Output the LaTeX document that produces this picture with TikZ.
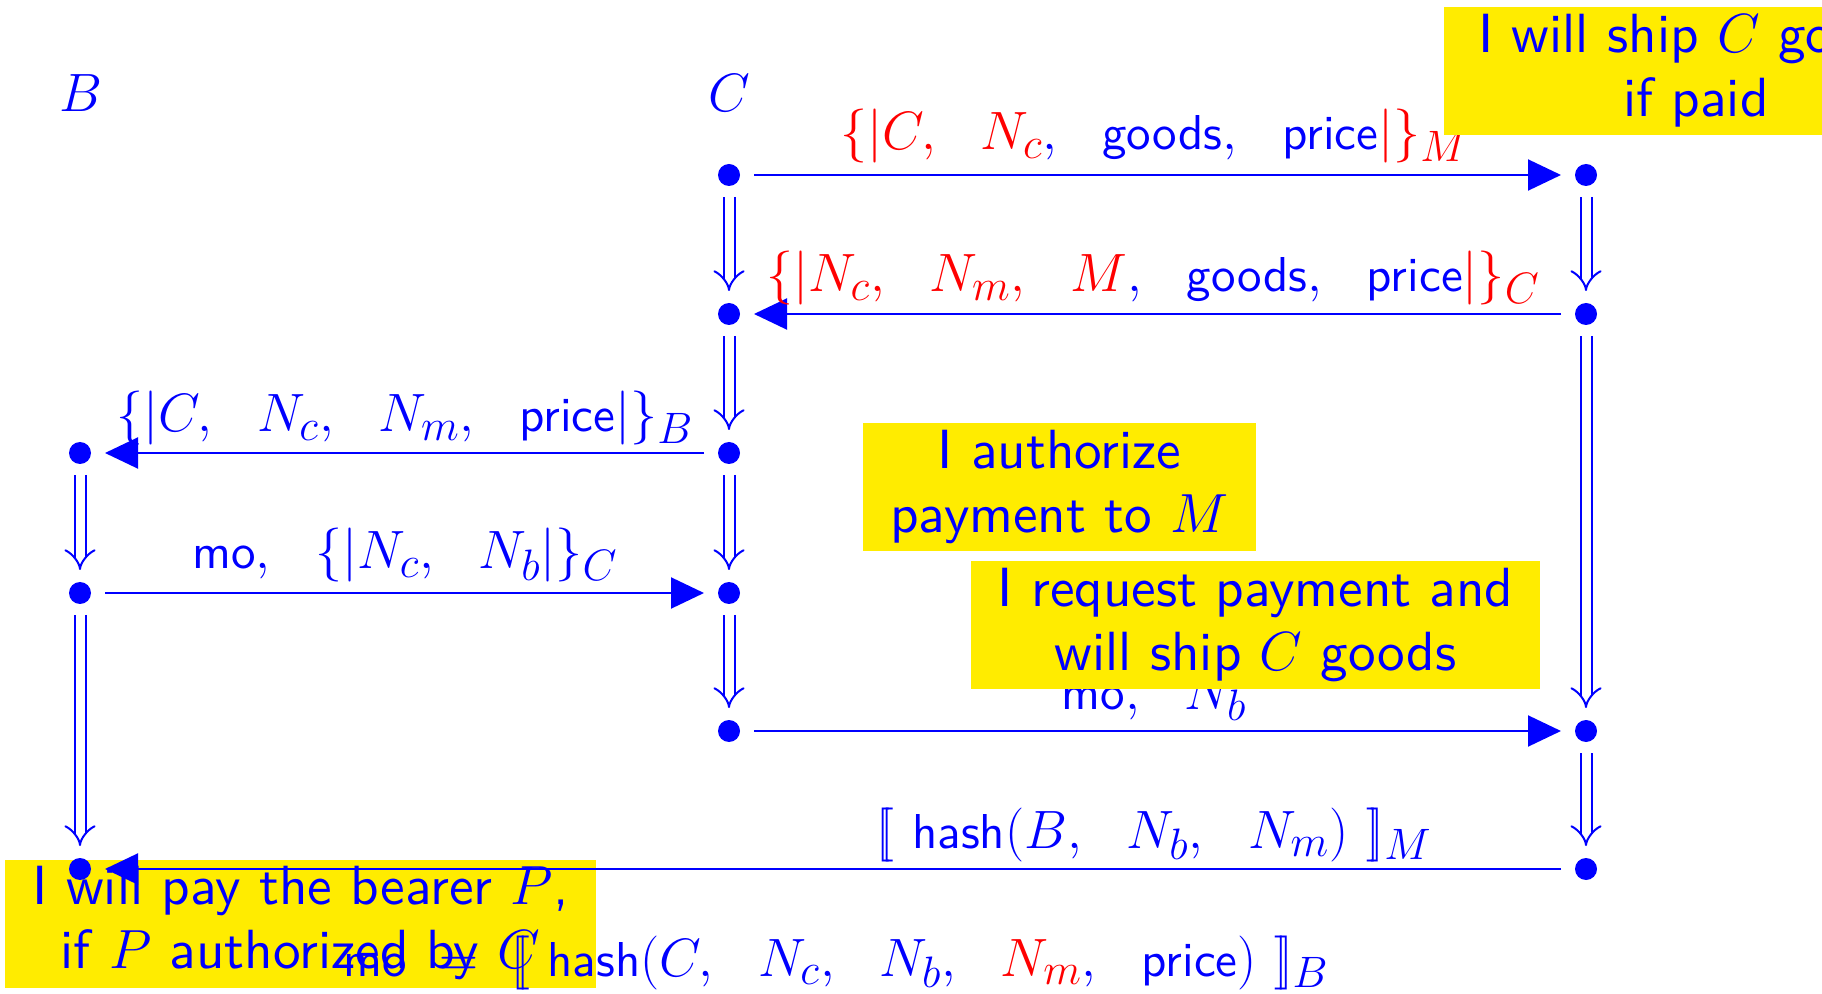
\RequirePackage{fix-cm}
\documentclass[tikz,border=0pt]{standalone}
\usepackage{fontspec}
\newfontfamily\lmsten{lmsans10-regular.otf}
\usetikzlibrary{arrows.meta}
\DeclareMathSizes{27}{27}{22}{16}
\DeclareMathSizes{27.6}{27.6}{22}{16}
\definecolor{hl}{RGB}{255,236,0}
\newcommand\fs{\fontsize{27}{32}\selectfont\lmsten}
\newcommand\fsbox{\fontsize{27.6}{32}\selectfont\lmsten}
\newcommand\w[1]{\mbox{\fontsize{24.5}{30}\selectfont\lmsten #1}}
\begin{document}
\begin{tikzpicture}[x=0.5pt,y=-0.5pt,
  every node/.style={text=blue,font=\fs},
  dot/.style={circle,fill=blue,minimum size=11pt,inner sep=0pt,outer sep=0pt},
  msg/.style={draw=blue,line width=1pt,-{Triangle[length=16.5pt,width=15.5pt]},shorten <=7pt,shorten >=7pt},
  seq/.style={draw=blue,line width=1pt,double=white,double distance=4.5pt,-{Implies},shorten <=5.5pt,shorten >=6pt},
  note/.style={fill=hl,align=center,inner sep=0pt,minimum height=64pt,font=\fsbox},
  lbl/.style={anchor=base,inner sep=0pt}]
\useasboundingbox (0,0) rectangle (1822,994);

% note drawn under the last message
\node[note,minimum width=295.5pt] (pay) at (300.5,923.5) {I will pay the bearer $P$,\\ if $P$ authorized by $C$};

% principals
\node[lbl] (lB) at (81,112) {$B$};
\node[lbl] (lC) at (729,112) {$C$};

% dots
\node[dot] (c1) at (729,175) {};
\node[dot] (c2) at (729,314) {};
\node[dot] (c3) at (729,453) {};
\node[dot] (c4) at (729,593) {};
\node[dot] (c5) at (729,731) {};
\node[dot] (m1) at (1586,175) {};
\node[dot] (m2) at (1586,314) {};
\node[dot] (m5) at (1586,731) {};
\node[dot] (m6) at (1586,869) {};
\node[dot] (b3) at (80,453) {};
\node[dot] (b4) at (80,593) {};
\node[dot] (b6) at (80,869) {};

% strand arrows
\draw[seq] (c1) -- (c2);
\draw[seq] (c2) -- (c3);
\draw[seq] (c3) -- (c4);
\draw[seq] (c4) -- (c5);
\draw[seq] (m1) -- (m2);
\draw[seq] (m2) -- (m5);
\draw[seq] (m5) -- (m6);
\draw[seq] (b3) -- (b4);
\draw[seq] (b4) -- (b6);

% messages
\draw[msg] (c1) -- (m1);
\draw[msg] (m2) -- (c2);
\draw[msg] (c3) -- (b3);
\draw[msg] (b4) -- (c4);
\draw[msg] (c5) -- (m5);
\draw[msg] (m6) -- (b6);

% message labels
\node[lbl] (l1) at (1154,150) {$\textcolor{red}{\{|C,\ \ N_c},\ \ \w{goods},\ \ \w{price}\textcolor{red}{|\}_M}$};
\node[lbl] (l2) at (1153,292) {$\textcolor{red}{\{|N_c,\ \ N_m,\ \ M},\ \ \w{goods},\ \ \w{price}\textcolor{red}{|\}_C}$};
\node[lbl] (l3) at (405,432) {$\{|C,\ \ N_c,\ \ N_m,\ \ \w{price}|\}_B$};
\node[lbl] (l4) at (405,569) {$\w{mo},\ \ \{|N_c,\ \ N_b|\}_C$};
\node[lbl] (l5) at (1154,709) {$\w{mo},\ \ N_b$};
\node[lbl] (l6) at (1154,848) {$[\![\ \w{hash}(B,\ \ N_b,\ \ N_m)\ ]\!]_M$};
\node[lbl] (l7) at (836,976) {$\w{mo}\ =\ [\![\ \w{hash}(C,\ \ N_c,\ \ N_b,\ \ \textcolor{red}{N_m},\ \ \w{price})\ ]\!]_B$};

% notes
\node[note,minimum width=196.5pt] (auth) at (1059.5,487) {I authorize\\ payment to $M$};
\node[note,minimum width=284.5pt] (req) at (1255.5,625) {I request payment and\\ will ship $C$ goods};
\node[note,minimum width=252pt] (ship) at (1696,71) {I will ship $C$ goods\\ if paid};
\end{tikzpicture}
\end{document}
